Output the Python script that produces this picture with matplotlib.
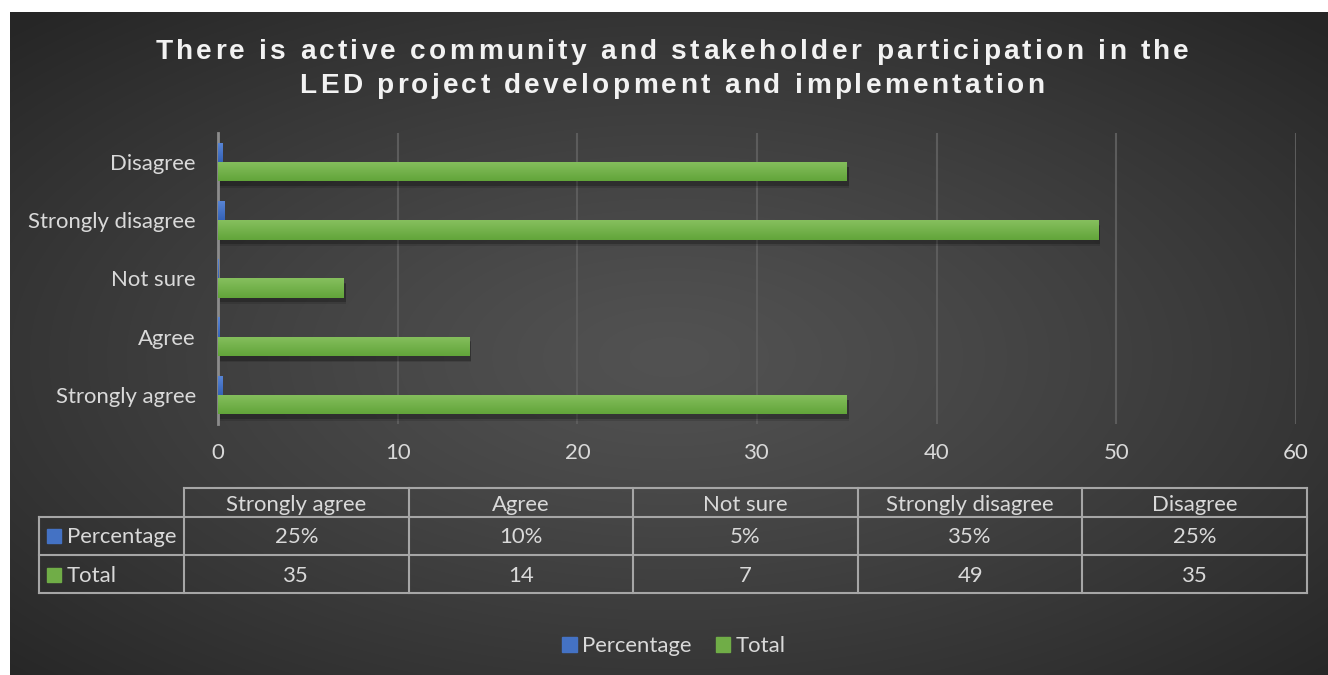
import numpy as np
import matplotlib
matplotlib.use('Agg')
import matplotlib.pyplot as plt
from matplotlib.patches import Patch, Rectangle
from matplotlib.colors import to_rgb
from matplotlib.font_manager import FontProperties, findfont, get_font

categories = ['Strongly agree', 'Agree', 'Not sure', 'Strongly disagree', 'Disagree']
percentage = [0.25, 0.10, 0.05, 0.35, 0.25]
pct_text = ['25%', '10%', '5%', '35%', '25%']
total = [35, 14, 7, 49, 35]
series = ['Percentage', 'Total']
x_ticks = [0, 10, 20, 30, 40, 50, 60]
title_lines = ['There is active community and stakeholder participation in the',
               'LED project development and implementation']

W, H = 1328, 675
BLUE, GREEN = '#4472c4', '#70ad47'
TEXT = '#d9d9d9'
FS = 15.9
plt.rcParams['font.family'] = 'Lato'

fig = plt.figure(figsize=(W / 100, H / 100), dpi=100, facecolor='white')

# dark radial background, lighter in the middle
bg = fig.add_axes([10 / W, 0, 1 - 10 / W, 1 - 12 / H], zorder=0)
bw, bh = W - 10, H - 12
yy, xx = np.mgrid[0:bh, 0:bw]
d = np.sqrt(((xx - bw * 0.5) / (bw * 0.5)) ** 2 + ((yy - bh * 0.52) / (bh * 0.5)) ** 2) / np.sqrt(2)
d = np.clip(d, 0, 1)
c0 = np.array(to_rgb('#525252'))
c1 = np.array(to_rgb('#262626'))
bg.imshow(c0 + (c1 - c0) * d[..., None] ** 1.2, aspect='auto', interpolation='bilinear')
bg.axis('off')

# bar chart
ax = fig.add_axes([218 / W, 1 - 424 / H, 1078 / W, 291 / H], zorder=1)
ax.patch.set_visible(False)
y = np.arange(len(categories))
h = 0.33
blue_bars = ax.barh(y + h / 2, percentage, height=h, color=BLUE, zorder=3, lw=0)
green_bars = ax.barh(y - h / 2, total, height=h, color=GREEN, zorder=3, lw=0)
# soft drop shadow under the green bars
for k, a in enumerate([0.22, 0.12]):
    ax.barh(y - h / 2 - 0.08 - 0.02 * k, total, left=0.1, height=h + 0.02 * k,
            color='black', alpha=a, zorder=2, lw=0)


def shade(bars, top, bottom):
    g = np.linspace(0, 1, 32)[:, None, None]
    b0, t0 = np.array(to_rgb(bottom)), np.array(to_rgb(top))
    img = b0 + (t0 - b0) * g
    for b in bars:
        x0, y0 = b.get_x(), b.get_y()
        im = ax.imshow(img, extent=[x0, x0 + b.get_width(), y0, y0 + b.get_height()],
                       origin='lower', aspect='auto', zorder=3.5, interpolation='bilinear')
        im.set_clip_path(b)


shade(green_bars, '#86bf5e', '#62a53a')
shade(blue_bars, '#5a86d6', '#3563b8')

ax.set_xlim(0, 60)
ax.set_ylim(-0.5, 4.5)
ax.set_xticks(x_ticks)
ax.set_yticks(y, categories)
ax.grid(axis='x', color='#5c5c5c', lw=1.5)
ax.set_axisbelow(True)
for s in ['top', 'right', 'bottom']:
    ax.spines[s].set_visible(False)
ax.spines['left'].set_color('#8c8c8c')
ax.spines['left'].set_linewidth(2)
ax.spines['left'].set_zorder(2.5)
ax.tick_params(length=0, colors=TEXT, labelsize=FS)
ax.tick_params(axis='x', pad=14)
ax.tick_params(axis='y', pad=16)

# overlay in pixel coordinates for the title and data table
ov = fig.add_axes([0, 0, 1, 1], zorder=2)
ov.set_xlim(0, W)
ov.set_ylim(H, 0)
ov.axis('off')

# letter-spaced title
tprop = FontProperties(family='Liberation Sans', weight='bold')
tfont = get_font(findfont(tprop))
title_px = 28
tfont.set_size(title_px, 72)
spacing = 3.3
for line, base in zip(title_lines, [59, 93]):
    adv = [tfont.load_char(ord(c)).linearHoriAdvance / 65536 for c in line]
    width = sum(adv) + spacing * (len(line) - 1)
    x = 672 - width / 2
    for c, a in zip(line, adv):
        if c != ' ':
            ov.text(x + a / 2, base, c, ha='center', va='baseline', color='#f2f2f2',
                    fontsize=title_px * 0.72, family='Liberation Sans', weight='bold')
        x += a + spacing

# data table
col_x = np.linspace(184, 1307, len(categories) + 1)
lk = dict(color='#a6a6a6', lw=1.5, solid_capstyle='projecting')
ov.plot([184, 1307], [488, 488], **lk)
for yv in [517, 555, 593]:
    ov.plot([39, 1307], [yv, yv], **lk)
ov.plot([39, 39], [517, 593], **lk)
for xv in col_x:
    ov.plot([xv, xv], [488, 593], **lk)
for i, cat in enumerate(categories):
    cx = (col_x[i] + col_x[i + 1]) / 2
    ov.text(cx, 511, cat, ha='center', va='baseline', color=TEXT, fontsize=FS)
    ov.text(cx, 543, pct_text[i], ha='center', va='baseline', color=TEXT, fontsize=FS)
    ov.text(cx, 582, str(total[i]), ha='center', va='baseline', color=TEXT, fontsize=FS)
for name, col, yb in zip(series, [BLUE, GREEN], [543, 582]):
    ov.add_patch(Rectangle((47, yb - 14), 14, 14, color=col))
    ov.text(67, yb, name, ha='left', va='baseline', color=TEXT, fontsize=FS)

handles = [Patch(color=BLUE), Patch(color=GREEN)]
fig.legend(handles, series, loc='center', bbox_to_anchor=(674 / W, 1 - 646 / H), ncol=2,
           frameon=False, fontsize=FS, labelcolor=TEXT, handlelength=0.65, handleheight=0.65,
           handletextpad=0.25, columnspacing=1.1)

fig.savefig('out.png', dpi=100, facecolor='white')
